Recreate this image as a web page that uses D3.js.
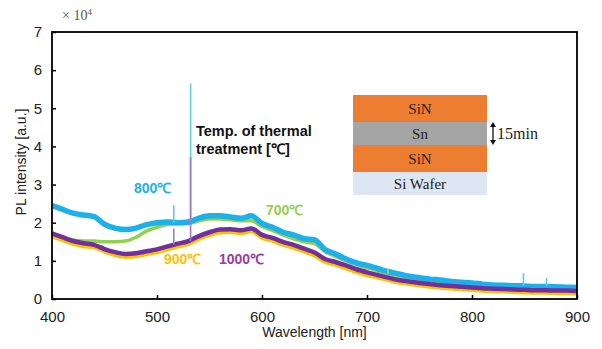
<!DOCTYPE html>
<html>
<head>
<meta charset="utf-8">
<script src="https://cdn.jsdelivr.net/npm/d3@7"></script>
<style>
body{margin:0;background:#fff;}
</style>
</head>
<body>
<div id="chart"></div>
<script>
// wavelength grid [nm], step 10
var wavelengths = d3.range(400, 901, 10);

// PL intensity, x10^4 a.u.
var s700 = [1.72,1.62,1.55,1.52,1.52,1.50,1.50,1.52,1.62,1.78,1.88,1.95,1.97,1.98,2.05,2.10,2.10,2.08,2.05,2.05,1.90,1.80,1.68,1.58,1.50,1.45,1.24,1.12,1.00,0.90,0.82,0.74,0.66,0.57,0.52,0.47,0.43,0.40,0.38,0.36,0.34,0.32,0.30,0.29,0.28,0.27,0.26,0.25,0.25,0.24,0.23];
var s800 = [2.45,2.35,2.25,2.20,2.16,1.96,1.86,1.82,1.86,1.95,2.00,2.02,2.00,2.02,2.12,2.18,2.18,2.15,2.12,2.18,1.98,1.88,1.75,1.68,1.58,1.55,1.30,1.18,1.05,0.95,0.88,0.80,0.72,0.66,0.60,0.56,0.52,0.50,0.46,0.44,0.42,0.39,0.37,0.36,0.35,0.34,0.33,0.33,0.32,0.31,0.30];
var s900 = [1.64,1.55,1.45,1.39,1.36,1.25,1.16,1.11,1.13,1.18,1.23,1.31,1.38,1.45,1.58,1.68,1.75,1.76,1.73,1.78,1.61,1.53,1.43,1.35,1.25,1.15,0.98,0.90,0.81,0.71,0.63,0.57,0.50,0.44,0.40,0.36,0.33,0.30,0.28,0.26,0.24,0.22,0.21,0.20,0.19,0.18,0.17,0.17,0.16,0.16,0.15];
var s1000 = [1.72,1.62,1.52,1.46,1.42,1.31,1.23,1.18,1.20,1.25,1.30,1.38,1.45,1.52,1.65,1.75,1.82,1.83,1.80,1.85,1.68,1.60,1.50,1.42,1.32,1.22,1.05,0.97,0.88,0.78,0.70,0.63,0.56,0.50,0.46,0.42,0.39,0.36,0.34,0.32,0.30,0.28,0.27,0.26,0.25,0.24,0.23,0.23,0.22,0.22,0.21];

// narrow spikes: [series, wavelength, base, top]
var spikes = [
	['800', 532, 2.02, 5.65],
	['1000', 532, 1.52, 3.72],
	['800', 516, 2.00, 2.46],
	['1000', 516, 1.42, 1.85],
	['800', 849, 0.34, 0.68],
	['800', 871, 0.33, 0.55],
	['700', 720, 0.66, 0.80]
];

var seriesNames = ['700', '800', '900', '1000'];
var seriesValues = [s700, s800, s900, s1000];
var seriesLabels = ['700\u2103', '800\u2103', '900\u2103', '1000\u2103'];

var xTicks = [400, 500, 600, 700, 800, 900];
var yTicks = [0, 1, 2, 3, 4, 5, 6, 7];

// sample layers
var layerNames = ['SiN', 'Sn', 'SiN', 'Si Wafer'];

var colors = {'700': '#92d050', '800': '#1cb1ea', '900': '#ffc000', '1000': '#7030a0'};
var labelColors = {'700': '#92d050', '800': '#1cb1ea', '900': '#ffc000', '1000': '#9a3d9e'};
var spikeColors = {'700': '#a6d970', '800': '#62c9f2', '900': '#ffc000', '1000': '#9a7cc4'};
var strokeW = {'700': 3.5, '800': 5.5, '900': 4.5, '1000': 4.5};

var W = 602, H = 349;
var pLeft = 52, pRight = 577, pTop = 32, pBottom = 299;

var svg = d3.select('#chart').append('svg')
	.attr('width', W)
	.attr('height', H)
	.style('font-family', '"Liberation Sans", Arial, sans-serif');

var x = d3.scaleLinear().domain([400, 900]).range([pLeft, pRight]);
var y = d3.scaleLinear().domain([0, 7]).range([pBottom, pTop]);

var line = d3.line()
	.x(function(d){ return x(d[0]); })
	.y(function(d){ return y(d[1]); })
	.curve(d3.curveMonotoneX);

// series, 700 first, 1000 on top
seriesNames.forEach(function(name, i){
	var pts = wavelengths.map(function(w, j){ return [w, seriesValues[i][j]]; });
	svg.append('path')
		.datum(pts)
		.attr('fill', 'none')
		.attr('stroke', colors[name])
		.attr('stroke-width', strokeW[name])
		.attr('stroke-linejoin', 'round')
		.attr('d', line);
});

svg.selectAll('.spike')
	.data(spikes)
	.enter().append('line')
	.attr('class', 'spike')
	.attr('x1', function(d){ return x(d[1]); })
	.attr('x2', function(d){ return x(d[1]); })
	.attr('y1', function(d){ return y(d[2]); })
	.attr('y2', function(d){ return y(d[3]); })
	.attr('stroke', function(d){ return spikeColors[d[0]]; })
	.attr('stroke-width', 1.6);

// axes, ticks pointing inward
var yAxis = d3.axisLeft(y).tickValues(yTicks).tickSize(-4).tickPadding(10).tickFormat(d3.format('d'));
var xAxis = d3.axisBottom(x).tickValues(xTicks).tickSize(-4).tickPadding(12).tickFormat(d3.format('d'));

var gy = svg.append('g').attr('transform', 'translate(' + pLeft + ',0)').call(yAxis);
var gx = svg.append('g').attr('transform', 'translate(0,' + pBottom + ')').call(xAxis);

[gx, gy].forEach(function(g){
	g.select('.domain').remove();
	g.selectAll('line').attr('stroke', '#000').attr('stroke-width', 1.5);
	g.selectAll('text')
		.attr('fill', '#222')
		.style('font-size', '15px')
		.style('font-family', '"Liberation Sans", Arial, sans-serif');
});

// frame
svg.append('rect')
	.attr('x', pLeft)
	.attr('y', pTop)
	.attr('width', pRight - pLeft)
	.attr('height', pBottom - pTop)
	.attr('fill', 'none')
	.attr('stroke', '#000')
	.attr('stroke-width', 1.8);

svg.append('text')
	.attr('x', (pLeft + pRight) / 2)
	.attr('y', 337)
	.attr('text-anchor', 'middle')
	.attr('fill', '#222')
	.style('font-size', '14px')
	.text('Wavelength [nm]');

svg.append('text')
	.attr('transform', 'translate(26,' + 162 + ') rotate(-90)')
	.attr('text-anchor', 'middle')
	.attr('fill', '#222')
	.style('font-size', '14px')
	.text('PL intensity [a.u.]');

// x10^4 multiplier
var mult = svg.append('text')
	.attr('x', 62)
	.attr('y', 20)
	.attr('fill', '#555')
	.style('font-family', '"Liberation Serif", "Times New Roman", serif')
	.style('font-size', '14px');
mult.append('tspan').text('\u00d7 10');
mult.append('tspan').attr('dy', -5).style('font-size', '9px').text('4');

// series labels
var labelPos = {'700': [266, 215], '800': [134, 193], '900': [164, 264], '1000': [219, 264]};
seriesNames.forEach(function(name, i){
	svg.append('text')
		.attr('x', labelPos[name][0])
		.attr('y', labelPos[name][1])
		.attr('fill', labelColors[name])
		.style('font-size', '14px')
		.style('font-weight', 'bold')
		.text(seriesLabels[i]);
});

svg.append('text')
	.attr('x', 196)
	.attr('y', 136)
	.attr('fill', '#111')
	.style('font-size', '14.5px')
	.style('font-weight', 'bold')
	.text('Temp. of thermal');
svg.append('text')
	.attr('x', 196)
	.attr('y', 154)
	.attr('fill', '#111')
	.style('font-size', '14.5px')
	.style('font-weight', 'bold')
	.text('treatment [\u2103]');

// layer stack sketch
var stack = svg.append('g');
var layerTops = [95, 122, 145, 172, 195];
var layerFill = ['#ed7d31', '#a5a5a5', '#ed7d31', '#dde6f3'];
layerNames.forEach(function(n, i){
	stack.append('rect')
		.attr('x', 353)
		.attr('y', layerTops[i])
		.attr('width', 134)
		.attr('height', layerTops[i + 1] - layerTops[i])
		.attr('fill', layerFill[i]);
	stack.append('text')
		.attr('x', 420)
		.attr('y', (layerTops[i] + layerTops[i + 1]) / 2 + 5)
		.attr('text-anchor', 'middle')
		.attr('fill', '#222')
		.style('font-family', '"Liberation Serif", "Times New Roman", serif')
		.style('font-size', '15px')
		.text(n);
});

// double arrow + time
var ax = 493;
stack.append('line').attr('x1', ax).attr('x2', ax).attr('y1', 125).attr('y2', 142)
	.attr('stroke', '#111').attr('stroke-width', 1.3);
stack.append('path').attr('d', 'M' + (ax - 3) + ',127 L' + ax + ',122 L' + (ax + 3) + ',127 Z').attr('fill', '#111');
stack.append('path').attr('d', 'M' + (ax - 3) + ',140 L' + ax + ',145 L' + (ax + 3) + ',140 Z').attr('fill', '#111');
stack.append('text')
	.attr('x', 497)
	.attr('y', 139)
	.attr('fill', '#222')
	.style('font-family', '"Liberation Serif", "Times New Roman", serif')
	.style('font-size', '16px')
	.text('15min');
</script>
</body>
</html>
